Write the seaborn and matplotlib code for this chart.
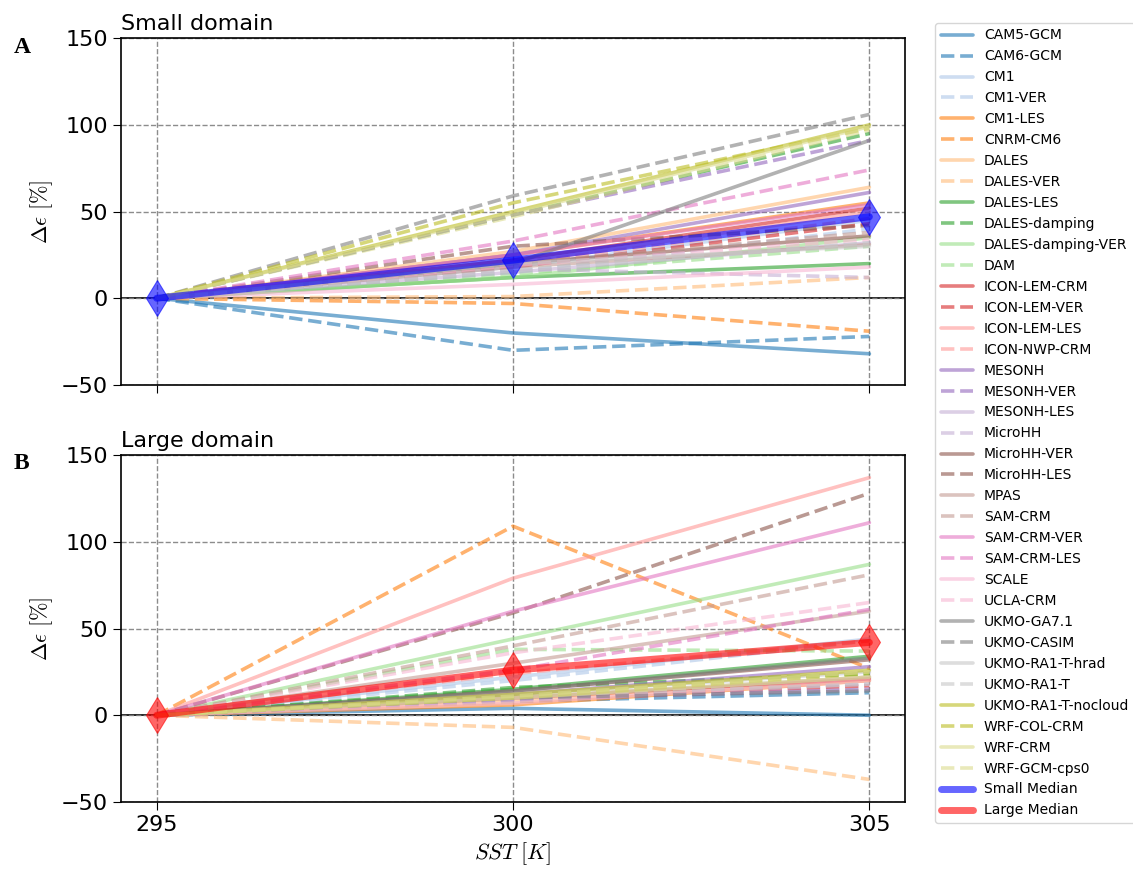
import numpy as np
import pandas as pd
import matplotlib
matplotlib.use('Agg')
import matplotlib.pyplot as plt
from matplotlib.lines import Line2D
import seaborn as sns

# ------------------------------
# data
# ------------------------------
sst = [295, 300, 305]

models = ['CAM5-GCM', 'CAM6-GCM', 'CM1', 'CM1-VER', 'CM1-LES', 'CNRM-CM6',
          'DALES', 'DALES-VER', 'DALES-LES', 'DALES-damping', 'DALES-damping-VER', 'DAM',
          'ICON-LEM-CRM', 'ICON-LEM-VER', 'ICON-LEM-LES', 'ICON-NWP-CRM',
          'MESONH', 'MESONH-VER', 'MESONH-LES', 'MicroHH', 'MicroHH-VER', 'MicroHH-LES',
          'MPAS', 'SAM-CRM', 'SAM-CRM-VER', 'SAM-CRM-LES', 'SCALE', 'UCLA-CRM',
          'UKMO-GA7.1', 'UKMO-CASIM', 'UKMO-RA1-T-hrad', 'UKMO-RA1-T',
          'UKMO-RA1-T-nocloud', 'WRF-COL-CRM', 'WRF-CRM', 'WRF-GCM-cps0']

# delta epsilon [%] at 300 K and 305 K (0 at 295 K)
small_300 = [-20, -30, 18, 15, 25, -3, 27, 1, 12, 48, 12, 14,
             22, 18, 20, 20, 25, 48, 15, 17, 20, 30,
             18, 20, 25, 33, 8, 19, 20, 59, 20, 16, 50, 55, 49, 47]
small_305 = [-32, -22, 45, 40, 55, -19, 64, 12, 20, 95, 35, 30,
             52, 43, 50, 46, 61, 91, 32, 12, 36, 42,
             31, 38, 54, 74, 18, 34, 91, 106, 30, 32, 100, 98, 99, 97]
large_300 = [4, 8, 22, 20, 6, 109, 8, -7, 15, 16, 44, 38,
             10, 10, 79, 24, 12, 9, 10, 9, 14, 59,
             30, 40, 60, 26, 7, 36, 14, 10, 12, 11, 12, 10, 10, 11]
large_305 = [0, 13, 44, 43, 20, 27, 22, -37, 34, 24, 87, 37,
             21, 17, 137, 43, 28, 15, 22, 18, 32, 128,
             60, 81, 111, 61, 20, 65, 33, 14, 25, 18, 26, 24, 22, 25]

small_median = [0, 22, 47]
large_median = [0, 26, 42]

# ------------------------------
# style
# ------------------------------
sns.set_style('ticks')
plt.rcParams['font.family'] = ['DejaVu Sans']
plt.rcParams['mathtext.fontset'] = 'cm'
plt.rcParams['text.color'] = 'black'
plt.rcParams['axes.labelcolor'] = 'black'
plt.rcParams['xtick.color'] = 'black'
plt.rcParams['ytick.color'] = 'black'

pal = sns.color_palette('tab20', 20)

fig = plt.figure(figsize=(11.33, 8.76), dpi=100)
ax1 = fig.add_axes([0.1068, 0.5605, 0.692, 0.396])
ax2 = fig.add_axes([0.1068, 0.0845, 0.692, 0.396])


def draw_panel(ax, v300, v305, median, mcolor, mlabel):
    for i, name in enumerate(models):
        sns.lineplot(x=sst, y=[0, v300[i], v305[i]], ax=ax, color=pal[i // 2],
                     linestyle='-' if i % 2 == 0 else '--', lw=2.6, alpha=0.6,
                     label=name, legend=False)
    sns.lineplot(x=sst, y=median, ax=ax, color=mcolor, lw=5, alpha=0.6,
                 marker='d', markersize=18, markeredgecolor=mcolor,
                 label=mlabel, legend=False)
    ax.axhline(0, color='black', lw=1.2, zorder=0.5)
    ax.set_xlim(294.5, 305.5)
    ax.set_ylim(-50, 150)
    ax.set_xticks(sst)
    ax.set_yticks([-50, 0, 50, 100, 150])
    ax.grid(True, ls='--', color='gray', lw=1, alpha=0.9)
    ax.tick_params(labelsize=16, length=6)
    ax.set_ylabel(r'$\Delta\epsilon\ [\%]$', fontsize=16)
    for s in ax.spines.values():
        s.set_color('black')
        s.set_linewidth(1.2)


draw_panel(ax1, small_300, small_305, small_median, 'blue', 'Small Median')
draw_panel(ax2, large_300, large_305, large_median, 'red', 'Large Median')

ax1.set_xticklabels([])
ax1.set_xlabel('')
ax1.set_title('Small domain', loc='left', fontsize=16, pad=6)
ax2.set_title('Large domain', loc='left', fontsize=16, pad=6)
ax2.set_xlabel(r'$SST\ [K]$', fontsize=16)

fig.text(0.012, 0.94, 'A', fontsize=17, fontweight='bold', family='Liberation Serif')
fig.text(0.012, 0.465, 'B', fontsize=17, fontweight='bold', family='Liberation Serif')

# legend: models + both medians (lines only)
handles = [Line2D([], [], color=pal[i // 2], ls='-' if i % 2 == 0 else '--',
                  lw=2.6, alpha=0.6) for i in range(len(models))]
handles += [Line2D([], [], color='blue', lw=5, alpha=0.6),
            Line2D([], [], color='red', lw=5, alpha=0.6)]
labels = models + ['Small Median', 'Large Median']
fig.legend(handles, labels, loc='upper left',
           bbox_to_anchor=(0.823, 0.977), fontsize=10, frameon=True,
           handlelength=2.3, borderaxespad=0.2, labelspacing=0.5)

fig.savefig('out.png', dpi=100)
